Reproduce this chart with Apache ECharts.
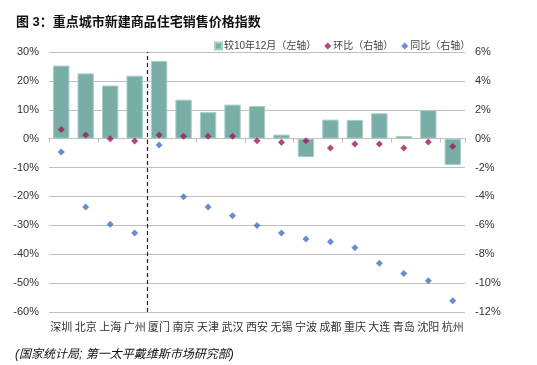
<!DOCTYPE html>
<html>
<head>
<meta charset="utf-8">
<script src="https://cdn.jsdelivr.net/npm/echarts@6/dist/echarts.min.js"></script>
<style>
html,body{margin:0;padding:0;background:#fff;}
#c{width:537px;height:365px;}
</style>
</head>
<body>
<div id="c"></div>
<script>
var categories = ['深圳','北京','上海','广州','厦门','南京','天津','武汉','西安','无锡','宁波','成都','重庆','大连','青岛','沈阳','杭州'];
var vsDec2010 = [25.3, 22.6, 18.4, 21.8, 26.9, 13.5, 9.2, 11.8, 11.3, 1.4, -6.4, 6.6, 6.5, 8.8, 0.9, 9.9, -9.1];
var momChange = [0.64, 0.26, 0.0, -0.16, 0.26, 0.16, 0.16, 0.16, -0.15, -0.25, -0.14, -0.65, -0.37, -0.37, -0.65, -0.23, -0.55];
var yoyChange = [-0.92, -4.73, -5.93, -6.53, -0.44, -4.02, -4.73, -5.33, -6.02, -6.53, -6.95, -7.13, -7.55, -8.63, -9.33, -9.83, -11.22];
var dividerPosition = 4;
var leftAxis = {min: -60, max: 30, interval: 10};
var rightAxis = {min: -12, max: 6, interval: 2};

var chart = echarts.init(document.getElementById('c'));
var cjk = '"Liberation Sans", Arial, "Noto Sans CJK SC", sans-serif';
chart.setOption({
  animation: false,
  title: [{
    text: '图 3：重点城市新建商品住宅销售价格指数',
    left: 11, top: 11,
    textStyle: {fontSize: 13, fontWeight: 'bold', color: '#111', fontFamily: cjk}
  }, {
    text: '(国家统计局; 第一太平戴维斯市场研究部)',
    left: 10, top: 344,
    textStyle: {fontSize: 12, fontStyle: 'italic', fontWeight: 'normal', color: '#111', fontFamily: cjk}
  }],
  legend: {
    left: 209, top: 36,
    itemWidth: 7, itemHeight: 7, itemGap: 8,
    textStyle: {fontSize: 10, color: '#444', fontFamily: cjk, padding: [0,0,0,-3]},
    data: [
      {name: '较10年12月（左轴）', icon: 'rect'},
      {name: '环比（右轴）', icon: 'diamond', itemStyle: {color: '#A3195B'}},
      {name: '同比（右轴）', icon: 'diamond', itemStyle: {color: '#4472C4'}}
    ]
  },
  grid: {left: 49, right: 72, top: 52, bottom: 53},
  xAxis: [{
    type: 'category', data: categories, position: 'bottom',
    axisLine: {show: false}, axisTick: {show: false},
    axisLabel: {fontSize: 11, color: '#333', margin: 9, interval: 0, fontFamily: '"Noto Sans CJK SC", sans-serif'}
  }, {
    type: 'category', data: categories, position: 'bottom',
    axisLine: {show: true, onZero: true, onZeroAxisIndex: 0, lineStyle: {color: '#BFBFBF', width: 1}},
    axisTick: {show: true, length: 4, lineStyle: {color: '#BFBFBF'}},
    axisLabel: {show: false}, splitLine: {show: false}
  }, {
    type: 'value', min: 0, max: categories.length, show: false
  }],
  yAxis: [{
    type: 'value', min: leftAxis.min, max: leftAxis.max, interval: leftAxis.interval,
    axisLine: {show: false}, axisTick: {show: false},
    axisLabel: {formatter: '{value}%', fontSize: 11, color: '#333', margin: 10, fontFamily: '"Liberation Sans", Arial, sans-serif'},
    splitLine: {lineStyle: {color: '#BFBFBF', width: 1}}
  }, {
    type: 'value', min: rightAxis.min, max: rightAxis.max, interval: rightAxis.interval, position: 'right',
    axisLine: {show: false}, axisTick: {show: false},
    axisLabel: {formatter: '{value}%', fontSize: 11, color: '#333', margin: 10, fontFamily: '"Liberation Sans", Arial, sans-serif'},
    splitLine: {show: false}
  }],
  series: [{
    name: '较10年12月（左轴）', type: 'bar', xAxisIndex: 0, yAxisIndex: 0,
    data: vsDec2010, barWidth: '67%',
    itemStyle: {color: '#79AEA6', borderColor: '#A9CFC9', borderWidth: 1}
  }, {
    name: '环比（右轴）', type: 'scatter', xAxisIndex: 0, yAxisIndex: 1,
    data: momChange, symbol: 'diamond', symbolSize: 7,
    itemStyle: {color: '#A3195B'}, z: 5
  }, {
    name: '同比（右轴）', type: 'scatter', xAxisIndex: 0, yAxisIndex: 1,
    data: yoyChange, symbol: 'diamond', symbolSize: 7,
    itemStyle: {color: '#4472C4'}, z: 5
  }, {
    name: 'divider', type: 'line', xAxisIndex: 2, yAxisIndex: 0, data: [],
    markLine: {
      silent: true, symbol: 'none', label: {show: false},
      lineStyle: {color: '#222', type: [4, 3], width: 1.2},
      data: [{xAxis: dividerPosition}]
    }
  }]
});
</script>
</body>
</html>
